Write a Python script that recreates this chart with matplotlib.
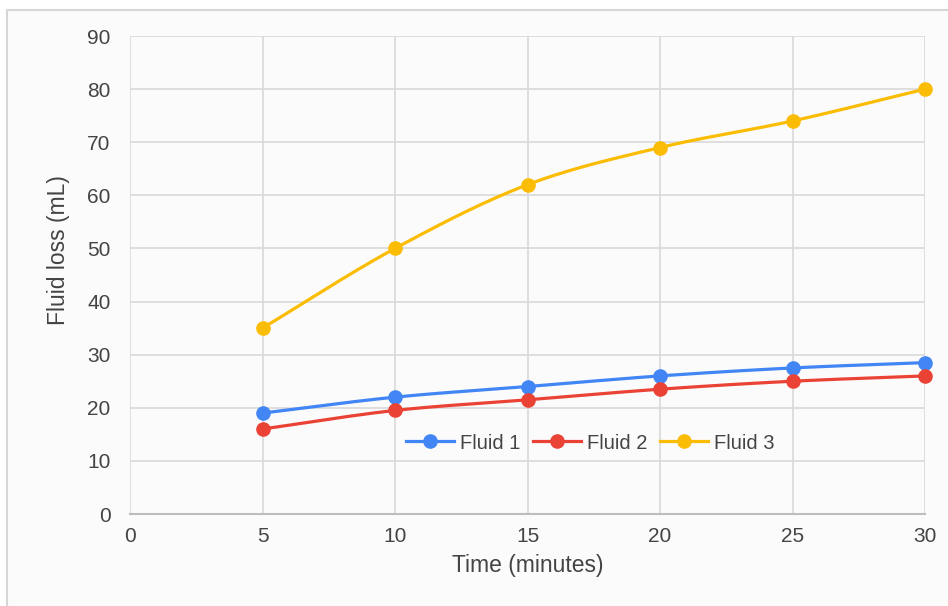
import numpy as np
import matplotlib
matplotlib.use("Agg")
import matplotlib.pyplot as plt
from matplotlib.patches import Rectangle

plt.rcParams['font.family'] = ['Liberation Sans', 'DejaVu Sans']

# data
time_min = [5, 10, 15, 20, 25, 30]
fluid1 = [19, 22, 24, 26, 27.5, 28.5]
fluid2 = [16, 19.5, 21.5, 23.5, 25, 26]
fluid3 = [35, 50, 62, 69, 74, 80]
names = ["Fluid 1", "Fluid 2", "Fluid 3"]
colors = ["#4285F4", "#EA4335", "#FBBC04"]


def smooth(x, y, n=30):
    # catmull-rom curve through the points (just for drawing)
    x = np.asarray(x, float)
    y = np.asarray(y, float)
    px = np.concatenate([[2*x[0]-x[1]], x, [2*x[-1]-x[-2]]])
    py = np.concatenate([[2*y[0]-y[1]], y, [2*y[-1]-y[-2]]])
    xs, ys = [], []
    t = np.linspace(0, 1, n)
    for i in range(1, len(px)-2):
        for p, out in ((px, xs), (py, ys)):
            p0, p1, p2, p3 = p[i-1], p[i], p[i+1], p[i+2]
            out.extend(0.5*((2*p1) + (-p0+p2)*t + (2*p0-5*p1+4*p2-p3)*t**2
                            + (-p0+3*p1-3*p2+p3)*t**3))
    return xs, ys


fig = plt.figure(figsize=(9.48, 6.06), dpi=100)
fig.patch.set_facecolor("white")
fig.patches.append(Rectangle((7/948, -0.01), 1.0, 1 - 10/606 + 0.01, transform=fig.transFigure,
                             facecolor="#fbfbfb", edgecolor="#d6d6d6", lw=1.5, zorder=-10))

ax = fig.add_axes([130/948, 92/606, 795/948, 478/606])
ax.set_facecolor("#fbfbfb")

for vals, nm, c in zip([fluid1, fluid2, fluid3], names, colors):
    sx, sy = smooth(time_min, vals)
    ax.plot(sx, sy, color=c, lw=2.3, zorder=3, solid_capstyle="round")
    ax.plot(time_min, vals, "o", color=c, ms=9.5, zorder=4, clip_on=False)
    ax.plot([], [], "-o", color=c, lw=2.3, ms=9.5, label=nm)

ax.set_xlim(0, 30)
ax.set_ylim(0, 90)
ax.set_xticks(range(0, 31, 5))
ax.set_yticks(range(0, 91, 10))
ax.grid(True, color="#d9d9d9", lw=1.2, zorder=0)
ax.set_axisbelow(True)
for s in ["top", "right", "left"]:
    ax.spines[s].set_visible(False)
ax.spines["bottom"].set_color("#bdbdbd")
ax.spines["bottom"].set_linewidth(1.5)
ax.tick_params(length=0, labelsize=15, colors="#444444", pad=9)
ax.tick_params(axis="y", pad=14)

ax.set_xlabel("Time (minutes)", fontsize=16.5, color="#444444", labelpad=6)
ax.set_ylabel("Fluid loss (mL)", fontsize=16.5, color="#444444")
ax.yaxis.set_label_coords(-0.076, 0.552)

ax.legend(loc="center", bbox_to_anchor=(0.579, 0.1485), ncol=3, frameon=False,
          fontsize=14.5, labelcolor="#444444", handlelength=2.4, handletextpad=0.3,
          columnspacing=0.6)

fig.savefig("out.png", dpi=100)
